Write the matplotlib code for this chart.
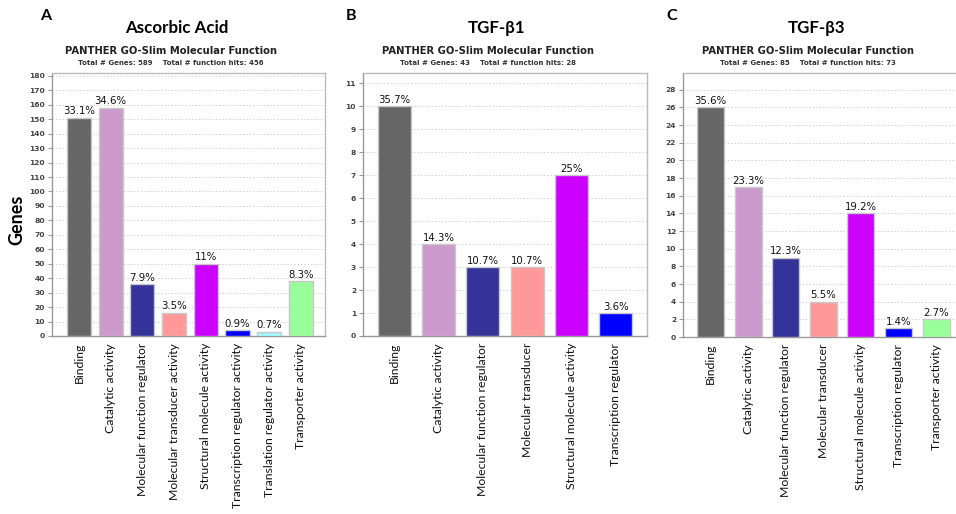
import matplotlib.pyplot as plt

W, H = 956, 514

colors = {
    'Binding': '#666666',
    'Catalytic activity': '#cc99cc',
    'Molecular function regulator': '#333399',
    'Molecular transducer activity': '#ff9999',
    'Molecular transducer': '#ff9999',
    'Structural molecule activity': '#cc00ff',
    'Transcription regulator activity': '#0000ff',
    'Transcription regulator': '#0000ff',
    'Translation regulator activity': '#99ffff',
    'Transporter activity': '#99ff99',
}

# panel A - ascorbic acid
cats_a = ['Binding', 'Catalytic activity', 'Molecular function regulator',
          'Molecular transducer activity', 'Structural molecule activity',
          'Transcription regulator activity', 'Translation regulator activity',
          'Transporter activity']
genes_a = [151, 158, 36, 16, 50, 4, 3, 38]
pct_a = ['33.1%', '34.6%', '7.9%', '3.5%', '11%', '0.9%', '0.7%', '8.3%']

# panel B - TGF-b1
cats_b = ['Binding', 'Catalytic activity', 'Molecular function regulator',
          'Molecular transducer', 'Structural molecule activity',
          'Transcription regulator']
genes_b = [10, 4, 3, 3, 7, 1]
pct_b = ['35.7%', '14.3%', '10.7%', '10.7%', '25%', '3.6%']

# panel C - TGF-b3
cats_c = ['Binding', 'Catalytic activity', 'Molecular function regulator',
          'Molecular transducer', 'Structural molecule activity',
          'Transcription regulator', 'Transporter activity']
genes_c = [26, 17, 9, 4, 14, 1, 2]
pct_c = ['35.6%', '23.3%', '12.3%', '5.5%', '19.2%', '1.4%', '2.7%']

panels = [
    dict(letter='A', title='Ascorbic Acid', totals='Total # Genes: 589    Total # function hits: 456',
         cats=cats_a, vals=genes_a, pct=pct_a, box=(52, 325, 73, 336), xlim=(-0.85, 7.76),
         ylim=182, step=10, width=0.76, lx=40, tx=177, sx=171),
    dict(letter='B', title='TGF-β1', totals='Total # Genes: 43    Total # function hits: 28',
         cats=cats_b, vals=genes_b, pct=pct_b, box=(363, 647, 73, 336), xlim=(-0.71, 5.71),
         ylim=11.45, step=1, width=0.75, lx=346, tx=497, sx=488),
    dict(letter='C', title='TGF-β3', totals='Total # Genes: 85    Total # function hits: 73',
         cats=cats_c, vals=genes_c, pct=pct_c, box=(683, 958, 73, 337), xlim=(-0.73, 6.58),
         ylim=29.9, step=2, width=0.72, lx=666, tx=817, sx=808),
]

fig = plt.figure(figsize=(W / 100, H / 100), dpi=100)
fig.patch.set_facecolor('white')

for p in panels:
    l, r, t, b = p['box']
    ax = fig.add_axes([l / W, 1 - b / H, (r - l) / W, (b - t) / H])
    x = range(len(p['cats']))
    ax.bar(x, p['vals'], width=p['width'], color=[colors[c] for c in p['cats']],
           edgecolor='#c8c8c8', linewidth=1, zorder=3)
    for i, v in enumerate(p['vals']):
        ax.annotate(p['pct'][i], (i, v), xytext=(0, 1), textcoords='offset points',
                    ha='center', va='bottom', fontsize=7.3, color='#111111', zorder=4)
    ax.set_xlim(*p['xlim'])
    ax.set_ylim(0, p['ylim'])
    ticks = []
    k = 0
    while k <= p['ylim']:
        ticks.append(k)
        k += p['step']
    ax.set_yticks(ticks)
    ax.set_xticks(list(x))
    ax.set_xticklabels(p['cats'], rotation=90, fontsize=8.8, family=['Lato', 'DejaVu Sans'],
                       color='#111111')
    ax.tick_params(axis='x', length=0, pad=5)
    ax.tick_params(axis='y', length=3, width=0.8, color='#999999', labelsize=5.4,
                   labelcolor='#444444', pad=2)
    for lab in ax.get_yticklabels():
        lab.set_fontweight('bold')
    ax.yaxis.grid(True, linestyle=(0, (1.5, 2)), color='#d0d0d0', linewidth=0.7, zorder=0)
    for s in ax.spines.values():
        s.set_color('#bbbbbb')
        s.set_linewidth(1)
    ax.spines['left'].set_color('#999999')
    ax.spines['bottom'].set_color('#999999')

    fig.text(p['lx'] / W, 1 - 16 / H, p['letter'], fontsize=11.5, fontweight='bold',
             family=['Lato', 'DejaVu Sans'], ha='left', va='center')
    fig.text(p['tx'] / W, 1 - 28 / H, p['title'], fontsize=12.2, fontweight='bold',
             family=['Lato', 'DejaVu Sans'], ha='center', va='center')
    fig.text(p['sx'] / W, 1 - 51 / H, 'PANTHER GO-Slim Molecular Function', fontsize=7.2,
             fontweight='bold', color='#222222', ha='center', va='center')
    fig.text(p['sx'] / W, 1 - 63 / H, p['totals'], fontsize=5.0, fontweight='bold',
             color='#333333', ha='center', va='center')

fig.text(17 / W, 1 - 220 / H, 'Genes', fontsize=13, fontweight='bold',
         family=['Lato', 'DejaVu Sans'], rotation=90, ha='center', va='center')

fig.savefig('out.png', dpi=100)
